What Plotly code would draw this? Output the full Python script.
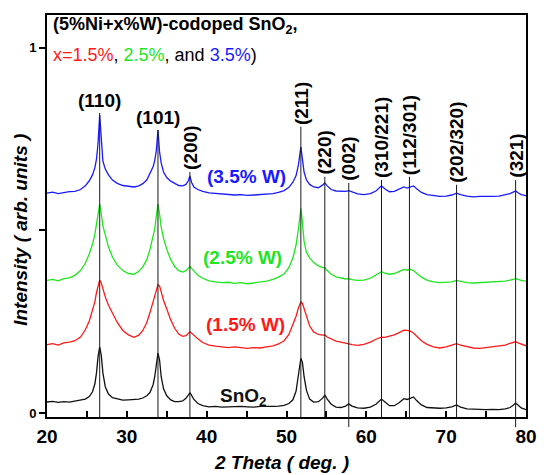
import plotly.graph_objects as go

two_theta = [20.0, 20.7, 21.4, 22.1, 22.8, 23.5, 24.2, 24.8, 25.3, 25.7, 26.0, 26.2, 26.4, 26.6, 26.8,
             27.0, 27.3, 27.7, 28.2, 28.8, 29.5, 30.2, 30.9, 31.5, 32.0, 32.5, 32.9, 33.3, 33.5, 33.7,
             33.9, 34.1, 34.3, 34.6, 35.0, 35.5, 36.0, 36.5, 37.0, 37.4, 37.7, 37.9, 38.1, 38.4, 38.9,
             39.5, 40.3, 41.1, 41.9, 42.7, 43.5, 44.3, 45.1, 45.9, 46.7, 47.5, 48.3, 49.0, 49.7, 50.3,
             50.8, 51.2, 51.5, 51.8, 52.0, 52.2, 52.5, 52.9, 53.4, 54.0, 54.5, 54.8, 55.1, 55.6, 56.2,
             56.8, 57.4, 57.8, 58.2, 58.9, 59.7, 60.5, 61.2, 61.6, 61.9, 62.3, 62.9, 63.5, 64.1, 64.7,
             65.1, 65.5, 65.9, 66.3, 66.9, 67.6, 68.4, 69.2, 70.0, 70.7, 71.3, 71.8, 72.6, 73.4, 74.2,
             75.0, 75.8, 76.6, 77.4, 78.0, 78.4, 78.7, 79.0, 79.4, 80.0]

sno2 = [0.030, 0.032, 0.029, 0.031, 0.030, 0.033, 0.035, 0.038, 0.045, 0.058, 0.080, 0.110, 0.155, 0.181, 0.158,
        0.110, 0.072, 0.052, 0.042, 0.038, 0.035, 0.036, 0.037, 0.038, 0.041, 0.047, 0.056, 0.078, 0.100, 0.140,
        0.164, 0.145, 0.100, 0.066, 0.047, 0.036, 0.031, 0.031, 0.033, 0.040, 0.050, 0.055, 0.049, 0.037, 0.026,
        0.020, 0.017, 0.018, 0.016, 0.017, 0.016, 0.018, 0.017, 0.016, 0.018, 0.017, 0.018, 0.019, 0.021, 0.026,
        0.036, 0.060, 0.105, 0.150, 0.138, 0.100, 0.062, 0.038, 0.030, 0.031, 0.040, 0.049, 0.038, 0.024, 0.016,
        0.015, 0.019, 0.025, 0.019, 0.014, 0.013, 0.016, 0.024, 0.033, 0.038, 0.031, 0.020, 0.020, 0.028, 0.039,
        0.037, 0.040, 0.044, 0.034, 0.022, 0.015, 0.013, 0.013, 0.014, 0.017, 0.022, 0.016, 0.011, 0.010, 0.009,
        0.009, 0.010, 0.009, 0.011, 0.015, 0.021, 0.027, 0.022, 0.014, 0.009]

w15 = [0.187, 0.190, 0.186, 0.192, 0.194, 0.198, 0.208, 0.228, 0.252, 0.280, 0.305, 0.330, 0.352, 0.364, 0.356,
       0.338, 0.318, 0.295, 0.272, 0.248, 0.226, 0.214, 0.207, 0.213, 0.226, 0.248, 0.275, 0.305, 0.322, 0.340,
       0.351, 0.348, 0.330, 0.308, 0.285, 0.255, 0.232, 0.216, 0.210, 0.212, 0.218, 0.222, 0.219, 0.212, 0.203,
       0.193, 0.186, 0.183, 0.180, 0.179, 0.181, 0.178, 0.177, 0.179, 0.178, 0.181, 0.184, 0.189, 0.198, 0.215,
       0.240, 0.265, 0.288, 0.304, 0.300, 0.286, 0.262, 0.238, 0.222, 0.215, 0.213, 0.214, 0.208, 0.202, 0.197,
       0.194, 0.190, 0.189, 0.187, 0.185, 0.188, 0.194, 0.202, 0.206, 0.208, 0.207, 0.210, 0.214, 0.220, 0.227,
       0.226, 0.224, 0.219, 0.210, 0.198, 0.188, 0.181, 0.178, 0.181, 0.186, 0.190, 0.186, 0.181, 0.178, 0.177,
       0.179, 0.180, 0.182, 0.186, 0.191, 0.194, 0.195, 0.192, 0.188, 0.184]

w25 = [0.363, 0.366, 0.362, 0.368, 0.370, 0.377, 0.390, 0.410, 0.436, 0.462, 0.490, 0.515, 0.548, 0.572, 0.545,
       0.512, 0.488, 0.455, 0.427, 0.405, 0.390, 0.382, 0.380, 0.388, 0.400, 0.420, 0.448, 0.482, 0.505, 0.540,
       0.572, 0.545, 0.510, 0.478, 0.448, 0.420, 0.401, 0.390, 0.386, 0.390, 0.397, 0.401, 0.396, 0.388, 0.377,
       0.369, 0.362, 0.359, 0.357, 0.358, 0.355, 0.357, 0.354, 0.356, 0.358, 0.361, 0.366, 0.372, 0.381, 0.398,
       0.425, 0.460, 0.505, 0.560, 0.520, 0.470, 0.440, 0.425, 0.412, 0.403, 0.398, 0.398, 0.390, 0.380, 0.373,
       0.369, 0.367, 0.368, 0.365, 0.363, 0.364, 0.369, 0.377, 0.383, 0.387, 0.383, 0.380, 0.382, 0.387, 0.393,
       0.391, 0.394, 0.390, 0.383, 0.372, 0.364, 0.359, 0.357, 0.357, 0.359, 0.363, 0.360, 0.357, 0.356, 0.357,
       0.356, 0.358, 0.358, 0.361, 0.364, 0.366, 0.368, 0.366, 0.363, 0.361]

w35 = [0.602, 0.605, 0.601, 0.604, 0.606, 0.607, 0.612, 0.622, 0.636, 0.652, 0.672, 0.695, 0.740, 0.816, 0.735,
       0.690, 0.668, 0.652, 0.638, 0.629, 0.623, 0.620, 0.619, 0.622, 0.628, 0.638, 0.655, 0.675, 0.692, 0.720,
       0.775, 0.715, 0.685, 0.660, 0.645, 0.635, 0.629, 0.623, 0.622, 0.626, 0.636, 0.649, 0.632, 0.619, 0.612,
       0.607, 0.603, 0.601, 0.599, 0.598, 0.597, 0.598, 0.596, 0.597, 0.598, 0.599, 0.601, 0.604, 0.609, 0.618,
       0.632, 0.650, 0.680, 0.729, 0.690, 0.660, 0.638, 0.626, 0.619, 0.617, 0.624, 0.630, 0.622, 0.612, 0.608,
       0.607, 0.607, 0.609, 0.605, 0.600, 0.598, 0.601, 0.608, 0.616, 0.622, 0.614, 0.606, 0.607, 0.612, 0.619,
       0.616, 0.618, 0.622, 0.614, 0.604, 0.598, 0.595, 0.593, 0.594, 0.597, 0.602, 0.598, 0.594, 0.592, 0.593,
       0.592, 0.593, 0.594, 0.597, 0.601, 0.605, 0.608, 0.603, 0.598, 0.595]

# reference peak lines (hkl)
peak_pos = [26.6, 33.9, 37.9, 51.8, 54.8, 57.8, 61.9, 65.4, 71.3, 78.7]
peak_labels = ["(110)", "(101)", "(200)", "(211)", "(220)", "(002)", "(310/221)", "(112/301)", "(202/320)", "(321)"]
peak_line_top = [0.822, 0.775, 0.660, 0.784, 0.647, 0.630, 0.638, 0.647, 0.625, 0.638]
peak_label_rotated = [False, False, True, True, True, True, True, True, True, True]
peak_line_below = [False, False, False, False, False, True, False, False, False, True]

series = [
    ("SnO<sub>2</sub>", sno2, "#111111", 44.6, 0.043),
    ("(1.5% W)", w15, "#ff1a1a", 44.9, 0.241),
    ("(2.5% W)", w25, "#1ee61e", 44.5, 0.425),
    ("(3.5% W)", w35, "#1a1aff", 45.0, 0.647),
]

FONT = "Liberation Sans, Arial, sans-serif"

fig = go.Figure()
annotations = []
for name, vals, color, lx, ly in series:
    fig.add_trace(go.Scatter(x=two_theta, y=vals, mode="lines",
                             line=dict(color=color, width=1.3), showlegend=False))
    annotations.append(dict(x=lx, y=ly, xref="x", yref="y", text="<b>" + name + "</b>",
                            showarrow=False, font=dict(family=FONT, size=19, color=color)))

shapes = []
for pos, lab, top, rot, below in zip(peak_pos, peak_labels, peak_line_top, peak_label_rotated, peak_line_below):
    shapes.append(dict(type="line", xref="x", yref="y", x0=pos, x1=pos, y0=-0.02, y1=top,
                       line=dict(color="#1a1a1a", width=1), layer="above"))
    if below:
        shapes.append(dict(type="line", xref="x", yref="paper", x0=pos, x1=pos, y0=-0.025, y1=0,
                           line=dict(color="#1a1a1a", width=1), layer="above"))
    if rot:
        annotations.append(dict(x=pos, y=top, xref="x", yref="y", text="<b>" + lab + "</b>",
                                textangle=-90, showarrow=False, xanchor="center", yanchor="bottom",
                                font=dict(family=FONT, size=19, color="black")))
    else:
        annotations.append(dict(x=pos, y=top, xref="x", yref="y", text="<b>" + lab + "</b>",
                                showarrow=False, xanchor="center", yanchor="bottom",
                                font=dict(family=FONT, size=19, color="black")))

# title lines inside the frame
annotations.append(dict(x=0.008, y=0.975, xref="paper", yref="paper", xanchor="left", yanchor="middle",
                        text="<b>(5%Ni+x%W)-codoped SnO<sub>2</sub>,</b>", showarrow=False,
                        font=dict(family=FONT, size=18, color="black")))
annotations.append(dict(x=0.008, y=0.900, xref="paper", yref="paper", xanchor="left", yanchor="middle",
                        text="<span style='color:#ff1a1a'>x=1.5%</span>, <span style='color:#1ee61e'>2.5%</span>, and <span style='color:#1a1aff'>3.5%</span>)",
                        showarrow=False, font=dict(family=FONT, size=18, color="black")))

# axis titles
annotations.append(dict(x=0.49, y=-0.114, xref="paper", yref="paper", xanchor="center", yanchor="middle",
                        text="<b><i>2 Theta ( deg. )</i></b>", showarrow=False,
                        font=dict(family=FONT, size=19, color="black")))
annotations.append(dict(x=-0.057, y=0.465, xref="paper", yref="paper", xanchor="center", yanchor="middle",
                        text="<b><i>Intensity ( arb. units )</i></b>", textangle=-90, showarrow=False,
                        font=dict(family=FONT, size=19, color="black")))

x_ticks = [20, 25, 30, 35, 40, 45, 50, 55, 60, 65, 70, 75, 80]
x_ticktext = ["20", "", "30", "", "40", "", "50", "", "60", "", "70", "", "80"]
y_ticks = [0, 0.5, 1]
y_ticktext = ["0", "", "1"]

fig.update_layout(
    width=547, height=475,
    margin=dict(l=47, r=10, t=15, b=58),
    paper_bgcolor="white", plot_bgcolor="white",
    shapes=shapes, annotations=annotations,
    xaxis=dict(range=[20, 80], tickvals=x_ticks, ticktext=x_ticktext, ticks="inside", ticklen=6,
               tickwidth=1.5, tickcolor="black", showline=True, linewidth=2, linecolor="black",
               mirror=True, showgrid=False, zeroline=False, ticklabelstandoff=1,
               tickfont=dict(family=FONT, size=19, color="black", weight="bold")),
    yaxis=dict(range=[-0.011, 1.090], tickvals=y_ticks, ticktext=y_ticktext, ticks="outside", ticklen=6,
               tickwidth=1.5, tickcolor="black", showline=True, linewidth=2, linecolor="black",
               mirror=True, showgrid=False, zeroline=False,
               tickfont=dict(family=FONT, size=13, color="black", weight="bold")),
)

fig.write_html("out.html", config={"displayModeBar": False},
               post_script="document.body.style.margin='0';document.body.style.overflow='hidden';")
